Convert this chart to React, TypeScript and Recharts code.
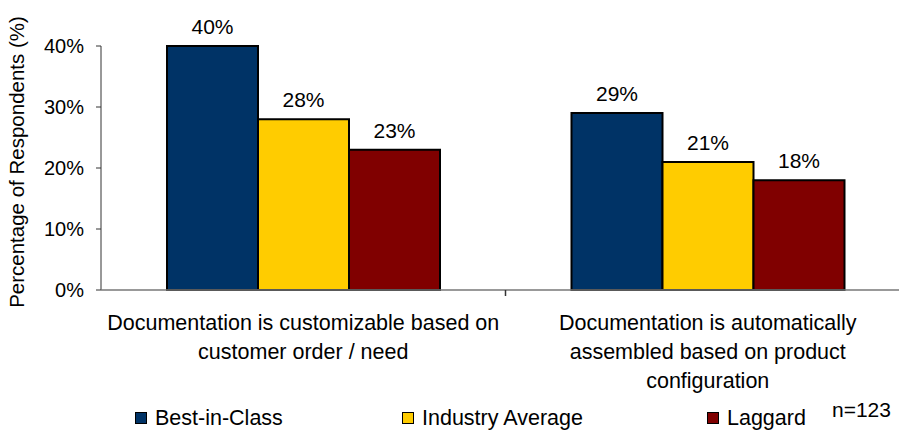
import React from 'react';
import { BarChart, Bar, XAxis, YAxis, LabelList, Legend } from 'recharts';

const categories = [
  'Documentation is customizable based on customer order / need',
  'Documentation is automatically assembled based on product configuration',
];
const categoryLines = [
  ['Documentation is customizable based on', 'customer order / need'],
  ['Documentation is automatically', 'assembled based on product', 'configuration'],
];
const bestInClass = [40, 29];
const industryAverage = [28, 21];
const laggard = [23, 18];
const yTicks = [0, 10, 20, 30, 40];
const seriesNames = ['Best-in-Class', 'Industry Average', 'Laggard'];
const seriesColors = ['#003366', '#FFCC00', '#800000'];
const sampleNote = 'n=123';

const data = categories.map((name, i) => ({
  name,
  best: bestInClass[i],
  avg: industryAverage[i],
  lag: laggard[i],
}));

const FONT = '"Liberation Sans", Arial, sans-serif';
const legendX = [135, 402, 707];

function CategoryTick(props: any) {
  const { x, y, index, width } = props;
  const lines = categoryLines[index] || [];
  const band = width / categories.length;
  return (
    <g>
      {lines.map((line, i) => (
        <text key={i} x={x} y={y + 32 + i * 29} textAnchor="middle" fontSize={21.5} fill="#000">
          {line}
        </text>
      ))}
      {index < categories.length - 1 && (
        <line x1={x + band / 2} x2={x + band / 2} y1={y - 8} y2={y - 2} stroke="#333" strokeWidth={1.5} />
      )}
    </g>
  );
}

function LegendBox(props: any) {
  const items = props.payload || [];
  return (
    <div style={{ position: 'relative', width: 899, height: 32, fontFamily: FONT, fontSize: 21.5 }}>
      {items.map((item: any, i: number) => (
        <div key={i} style={{ position: 'absolute', left: legendX[i], top: 0, display: 'flex', alignItems: 'center', height: 28 }}>
          <span style={{ display: 'inline-block', width: 10, height: 10, background: item.color, border: '1px solid #000', marginRight: 8 }} />
          <span>{item.value}</span>
        </div>
      ))}
    </div>
  );
}

export default function App() {
  return (
    <div style={{ position: 'absolute', left: 0, top: 0, width: 899, height: 432, overflow: 'hidden', background: '#fff', fontFamily: FONT }}>
      <BarChart
        width={920}
        height={432}
        data={data}
        margin={{ top: 46, right: 10, bottom: 0, left: 0 }}
        barCategoryGap={66}
        barGap={0}
      >
        <YAxis
          width={101}
          domain={[0, 40]}
          ticks={yTicks}
          tickFormatter={(v: number) => `${v}%`}
          tickSize={5}
          tickMargin={12}
          tick={{ fill: '#000', fontSize: 20 }}
          axisLine={{ stroke: '#333' }}
          tickLine={{ stroke: '#333' }}
          label={{ value: 'Percentage of Respondents (%)', angle: -90, position: 'insideLeft', offset: 17, dy: -6, style: { fontSize: 20.5, fill: '#000', textAnchor: 'middle' } }}
        />
        <XAxis
          dataKey="name"
          height={110}
          tickSize={6}
          tickMargin={2}
          tickLine={false}
          axisLine={{ stroke: '#777', strokeWidth: 1.5 }}
          tick={<CategoryTick />}
          interval={0}
        />
        <Legend
          verticalAlign="bottom"
          content={<LegendBox />}
          wrapperStyle={{ position: 'absolute', left: 0, top: 404, width: 899, height: 32 }}
        />
        <Bar dataKey="best" name={seriesNames[0]} fill={seriesColors[0]} stroke="#000" strokeWidth={2} isAnimationActive={false}>
          <LabelList dataKey="best" position="top" offset={12} formatter={(v: any) => `${v}%`} style={{ fontSize: 21, fill: '#000' }} />
        </Bar>
        <Bar dataKey="avg" name={seriesNames[1]} fill={seriesColors[1]} stroke="#000" strokeWidth={2} isAnimationActive={false}>
          <LabelList dataKey="avg" position="top" offset={12} formatter={(v: any) => `${v}%`} style={{ fontSize: 21, fill: '#000' }} />
        </Bar>
        <Bar dataKey="lag" name={seriesNames[2]} fill={seriesColors[2]} stroke="#000" strokeWidth={2} isAnimationActive={false}>
          <LabelList dataKey="lag" position="top" offset={12} formatter={(v: any) => `${v}%`} style={{ fontSize: 21, fill: '#000' }} />
        </Bar>
      </BarChart>
      <div style={{ position: 'absolute', left: 832, top: 398, fontSize: 21, color: '#000' }}>{sampleNote}</div>
    </div>
  );
}
